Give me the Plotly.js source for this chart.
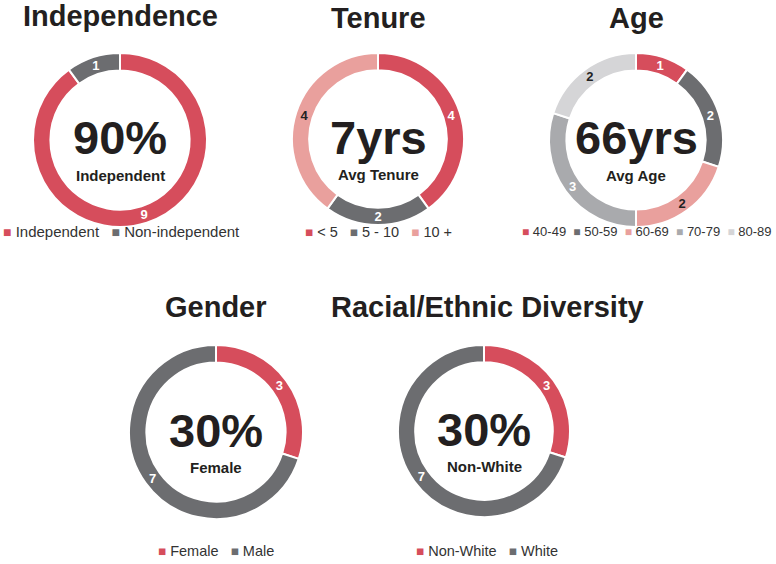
<!DOCTYPE html>
<html>
<head>
<meta charset="utf-8">
<script src="https://cdn.plot.ly/plotly-3.0.1.min.js"></script>
<style>html,body{margin:0;padding:0;background:#fff;}#chart{width:776px;height:564px;}</style>
</head>
<body>
<div id="chart"></div>
<script>
// ---- data ----
const independenceLabels = ['Independent', 'Non-independent'];
const independenceValues = [9, 1];
const tenureLabels = ['< 5', '5 - 10', '10 +'];
const tenureValues = [4, 2, 4];
const ageLabels = ['40-49', '50-59', '60-69', '70-79', '80-89'];
const ageValues = [1, 2, 2, 3, 2];
const genderLabels = ['Female', 'Male'];
const genderValues = [3, 7];
const raceLabels = ['Non-White', 'White'];
const raceValues = [3, 7];

const titles = ['Independence', 'Tenure', 'Age', 'Gender', 'Racial/Ethnic Diversity'];
const bigTexts = ['90%', '7yrs', '66yrs', '30%', '30%'];
const subTexts = ['Independent', 'Avg Tenure', 'Avg Age', 'Female', 'Non-White'];

// ---- styles ----
const RED = '#d64d5c', DARK = '#6c6d70', PINK = '#e9a09d', MID = '#a9aaad', LIGHT = '#d5d5d7';
const independenceColors = [RED, DARK];
const tenureColors = [RED, DARK, PINK];
const ageColors = [RED, DARK, PINK, MID, LIGHT];
const genderColors = [RED, DARK];
const raceColors = [RED, DARK];
const textColorFor = c => (c === PINK || c === LIGHT) ? '#222' : '#fff';

const W = 776, H = 564;
const FONT = 'Liberation Sans, Arial, Helvetica, sans-serif';

// pie placements in pixels (center x, center y, radius)
const place = [
  [120, 140, 87],
  [378, 139, 86],
  [636, 140, 87],
  [216, 432, 87],
  [484, 431, 86]
];
const titleY = [16, 18, 18, 307, 307];
const titleX = [120, 378, 636, 216, 487];
const legendY = [232, 232, 232, 551, 551];
const legendX = [121, 378, 647, 216, 487];
const legendSize = [15, 14.5, 13, 14.5, 14.5];
const legendGap = [3, 3, 2, 3, 3];

const sets = [
  [independenceLabels, independenceValues, independenceColors],
  [tenureLabels, tenureValues, tenureColors],
  [ageLabels, ageValues, ageColors],
  [genderLabels, genderValues, genderColors],
  [raceLabels, raceValues, raceColors]
];

const px = x => x / W;
const py = y => 1 - y / H;

const traces = sets.map(([labels, values, colors], i) => {
  const [cx, cy, r] = place[i];
  return {
    type: 'pie',
    labels: labels,
    values: values,
    sort: false,
    direction: 'clockwise',
    rotation: 0,
    hole: 0.8,
    domain: {x: [px(cx - r), px(cx + r)], y: [py(cy + r), py(cy - r)]},
    marker: {colors: colors, line: {color: '#fff', width: 2}},
    textinfo: 'value',
    textposition: 'inside',
    insidetextorientation: 'horizontal',
    textfont: {family: FONT, size: 13, color: colors.map(textColorFor), weight: 'bold'},
    showlegend: false,
    hoverinfo: 'label+value'
  };
});

const annotations = [];
sets.forEach(([labels, values, colors], i) => {
  const [cx, cy] = place[i];
  annotations.push({
    xref: 'paper', yref: 'paper', x: px(titleX[i]), y: py(titleY[i]),
    xanchor: 'center', yanchor: 'middle', showarrow: false,
    text: '<b>' + titles[i] + '</b>',
    font: {family: FONT, size: 29, color: '#231f20'}
  });
  annotations.push({
    xref: 'paper', yref: 'paper', x: px(cx), y: py(cy - 2),
    xanchor: 'center', yanchor: 'middle', showarrow: false,
    text: '<b>' + bigTexts[i] + '</b>',
    font: {family: FONT, size: 47, color: '#231f20'}
  });
  annotations.push({
    xref: 'paper', yref: 'paper', x: px(cx), y: py(cy + 35),
    xanchor: 'center', yanchor: 'middle', showarrow: false,
    text: '<b>' + subTexts[i] + '</b>',
    font: {family: FONT, size: 15, color: '#231f20'}
  });
  const legendText = labels.map((l, k) =>
    '<span style="color:' + colors[k] + ';font-size:' + (legendSize[i] - 1) + 'px">\u25A0</span>\u00A0' + l
  ).join('\u00A0'.repeat(legendGap[i]));
  annotations.push({
    xref: 'paper', yref: 'paper', x: px(legendX[i]), y: py(legendY[i]),
    xanchor: 'center', yanchor: 'middle', showarrow: false,
    text: legendText,
    font: {family: FONT, size: legendSize[i], color: '#333'}
  });
});

const layout = {
  width: W, height: H,
  margin: {l: 0, r: 0, t: 0, b: 0},
  paper_bgcolor: '#fff',
  plot_bgcolor: '#fff',
  showlegend: false,
  font: {family: FONT},
  annotations: annotations
};

Plotly.newPlot('chart', traces, layout, {displayModeBar: false, staticPlot: true});
</script>
</body>
</html>
